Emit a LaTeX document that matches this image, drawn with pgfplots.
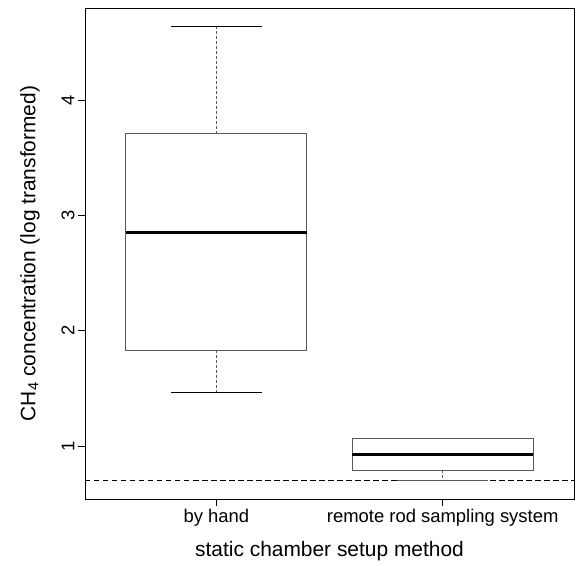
\documentclass[border=0pt]{standalone}
\usepackage{pgfplots}
\pgfplotsset{compat=1.18}
\usepgfplotslibrary{statistics}
\usepackage{fontspec}
\setmainfont{Liberation Sans}

\begin{document}
\begin{tikzpicture}
\begin{axis}[
  scale only axis, width=489bp, height=491bp,
  xmin=0.42, xmax=2.58, ymin=0.539, ymax=4.80,
  xtick={1,2}, xticklabels={by hand, remote rod sampling system},
  ytick={1,2,3,4},
  tick pos=left,
  tick align=outside, major tick length=7bp,
  tick style={black, line width=0.6bp},
  axis line style={black, line width=0.8bp},
  yticklabel style={rotate=90, anchor=south, font=\fontsize{18.5}{22}\selectfont},
  xticklabel style={anchor=north, font=\fontsize{18.5}{22}\selectfont},
  /pgf/number format/assume math mode=true,
  xlabel={static chamber setup method},
  ylabel={CH\textsubscript{4} concentration (log transformed)},
  xlabel style={at={(axis description cs:0.5,-0.1059)}, anchor=center, font=\fontsize{21}{25}\selectfont},
  ylabel style={at={(axis description cs:-0.1125,0.5)}, anchor=center, font=\fontsize{21}{25}\selectfont},
  boxplot/draw direction=y,
  boxplot/every box/.style={draw=black!65, line width=0.8bp},
  boxplot/every whisker/.style={draw=black!65, line width=0.7bp, dash pattern=on 3bp off 2bp},
  boxplot/every median/.style={draw=black, line width=2.4bp},
  boxplot/box extend=0.8,
  boxplot/whisker extend=0,
]
\coordinate (ll) at (rel axis cs:0,0);
\coordinate (ur) at (rel axis cs:1,1);

% threshold line
\addplot[black, line width=0.8bp, dash pattern=on 5.5bp off 3.5bp] coordinates {(0.42,0.697) (2.58,0.697)};

% by hand
\addplot[boxplot prepared={draw position=1, lower whisker=1.461, lower quartile=1.828, median=2.85, upper quartile=3.708, upper whisker=4.64}] coordinates {};
\addplot[black, line width=0.8bp] coordinates {(0.8,4.64) (1.2,4.64)};
\addplot[black, line width=0.8bp] coordinates {(0.8,1.461) (1.2,1.461)};

% remote rod sampling system
\addplot[boxplot prepared={draw position=2, lower whisker=0.697, lower quartile=0.79, median=0.925, upper quartile=1.063, upper whisker=1.063}] coordinates {};
\addplot[black!65, line width=0.8bp] coordinates {(1.8,0.697) (2.2,0.697)};
\end{axis}
\pgfresetboundingbox
\path ([shift={(-85bp,-67bp)}]ll) rectangle ([shift={(5bp,8bp)}]ur);
\end{tikzpicture}
\end{document}
